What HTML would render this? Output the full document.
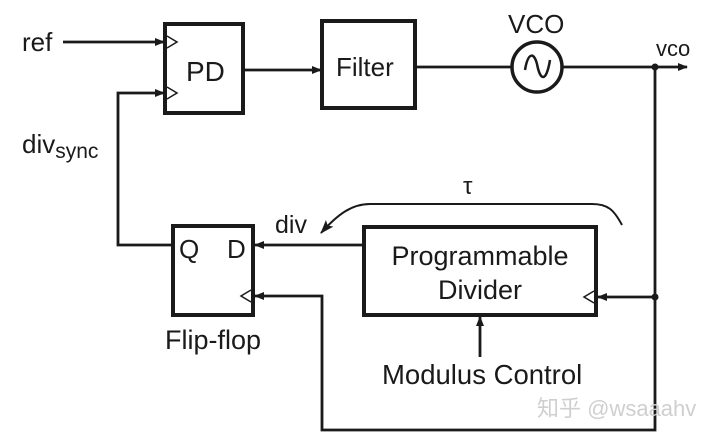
<!DOCTYPE html>
<html><head><meta charset="utf-8"><style>
html,body{margin:0;padding:0;background:#fff;}
svg{display:block;}
text{font-family:"Liberation Sans","Noto Sans CJK SC",sans-serif;fill:#1a1a1a;}
</style></head><body>
<svg width="713" height="441" viewBox="0 0 713 441" xmlns="http://www.w3.org/2000/svg">
<defs>
<marker id="a" markerWidth="10" markerHeight="8" refX="9" refY="4" orient="auto" markerUnits="userSpaceOnUse">
<path d="M0,0 L10,4 L0,8 Z" fill="#1a1a1a"/></marker>
<marker id="b" markerWidth="14" markerHeight="10" refX="13" refY="5" orient="auto" markerUnits="userSpaceOnUse">
<path d="M0,0 L14,5 L0,10 L3,5 Z" fill="#1a1a1a"/></marker>
</defs>
<g stroke="#1a1a1a" fill="none">
<rect x="165" y="24" width="78" height="89" stroke-width="4"/>
<rect x="322" y="21" width="93" height="87" stroke-width="4"/>
<rect x="173" y="226" width="80" height="89" stroke-width="4"/>
<rect x="364" y="227" width="232" height="88" stroke-width="4"/>
<circle cx="537" cy="67" r="25" stroke-width="3.5"/>
<path d="M525,70 C528,52 534,52 537,64 C540,80 546,84 550,60" stroke-width="2.5"/>
<path d="M167,36 L177,42 L167,48" stroke-width="1.5"/>
<path d="M167,87 L177,93 L167,99" stroke-width="1.5"/>
<path d="M251,290 L241,296 L251,302" stroke-width="1.5"/>
<path d="M594,291 L584,297 L594,303" stroke-width="1.5"/>
<g stroke-width="2.8">
<line x1="63" y1="42" x2="164" y2="42" marker-end="url(#a)"/>
<polyline points="173,245 118,245 118,93 164,93" marker-end="url(#a)"/>
<line x1="243" y1="70" x2="321" y2="70" marker-end="url(#a)"/>
<line x1="415" y1="67" x2="512" y2="67"/>
<line x1="562" y1="67" x2="687" y2="67" marker-end="url(#a)"/>
<polyline points="655,67 655,430 322,430 322,296 255,296" marker-end="url(#a)"/>
<line x1="655" y1="297" x2="598" y2="297" marker-end="url(#a)"/>
<line x1="364" y1="245" x2="255" y2="245" marker-end="url(#a)"/>
<line x1="480" y1="357" x2="480" y2="317" marker-end="url(#a)"/>
</g>
<path d="M622,225 C614,210 608,204 592,204 L370,204 C352,204 338,214 321,233" stroke-width="2" marker-end="url(#b)"/>
</g>
<circle cx="655" cy="67" r="3.5" fill="#1a1a1a"/>
<circle cx="655" cy="297" r="3.5" fill="#1a1a1a"/>
<text x="22" y="51" font-size="26">ref</text>
<text x="186" y="81" font-size="28">PD</text>
<text x="336" y="76" font-size="26">Filter</text>
<text x="508" y="33" font-size="26">VCO</text>
<text x="656" y="56" font-size="22">vco</text>
<text x="22" y="153" font-size="26">div<tspan font-size="21" dy="5">sync</tspan></text>
<text x="463" y="194" font-size="24">τ</text>
<text x="275" y="233" font-size="25">div</text>
<text x="179" y="258" font-size="26">Q</text>
<text x="227" y="258" font-size="26">D</text>
<text x="480" y="265" font-size="27" text-anchor="middle">Programmable</text>
<text x="480" y="299" font-size="27" text-anchor="middle">Divider</text>
<text x="165" y="349" font-size="27">Flip-flop</text>
<text x="382" y="384" font-size="27.5">Modulus Control</text>
<text x="537" y="416" font-size="22" style="fill:#cfcfcf">知乎 @wsaaahv</text>
</svg>
</body></html>
